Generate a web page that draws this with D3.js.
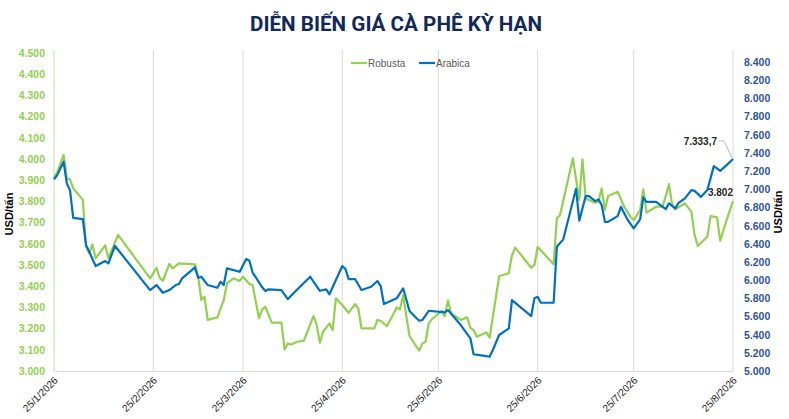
<!DOCTYPE html>
<html>
<head>
<meta charset="utf-8">
<script src="https://cdn.jsdelivr.net/npm/d3@7"></script>
<style>
  html, body { margin: 0; padding: 0; background: #ffffff; }
  svg { display: block; }
</style>
</head>
<body>
<div id="chart"></div>
<script>
// ---------- DATA ----------
const title = "DIỄN BIẾN GIÁ CÀ PHÊ KỲ HẠN";
const seriesNames = ["Robusta", "Arabica"];
const axisTitle = "USD/tấn";

const leftTicks = [3000, 3100, 3200, 3300, 3400, 3500, 3600, 3700, 3800, 3900, 4000, 4100, 4200, 4300, 4400, 4500];
const rightTicks = [5000, 5200, 5400, 5600, 5800, 6000, 6200, 6400, 6600, 6800, 7000, 7200, 7400, 7600, 7800, 8000, 8200, 8400];
const xTickDates = ["2026-01-25", "2026-02-25", "2026-03-25", "2026-04-25", "2026-05-25", "2026-06-25", "2026-07-25", "2026-08-25"];

const robustaDates = [
  "2026-01-25","2026-01-26","2026-01-28","2026-01-29","2026-01-30","2026-01-31","2026-02-03","2026-02-04","2026-02-05","2026-02-06",
  "2026-02-07","2026-02-10","2026-02-11","2026-02-14","2026-02-24","2026-02-26","2026-02-27","2026-02-28","2026-03-02","2026-03-03",
  "2026-03-05","2026-03-10","2026-03-11","2026-03-12","2026-03-13","2026-03-14","2026-03-17","2026-03-19","2026-03-20","2026-03-22",
  "2026-03-24","2026-03-25","2026-03-27","2026-03-28","2026-03-30","2026-03-31","2026-04-01","2026-04-03","2026-04-06","2026-04-07",
  "2026-04-08","2026-04-09","2026-04-11","2026-04-13","2026-04-15","2026-04-16","2026-04-17","2026-04-18","2026-04-19","2026-04-21",
  "2026-04-22","2026-04-23","2026-04-25","2026-04-27","2026-04-29","2026-04-30","2026-05-01","2026-05-05","2026-05-06","2026-05-07",
  "2026-05-09","2026-05-12","2026-05-13","2026-05-14","2026-05-16","2026-05-19","2026-05-20","2026-05-21","2026-05-22","2026-05-23",
  "2026-05-26","2026-05-27","2026-05-28","2026-05-29","2026-06-01","2026-06-03","2026-06-04","2026-06-05","2026-06-06","2026-06-09",
  "2026-06-10","2026-06-13","2026-06-16","2026-06-17","2026-06-18","2026-06-23","2026-06-24","2026-06-25","2026-06-30","2026-07-01",
  "2026-07-02","2026-07-06","2026-07-08","2026-07-09","2026-07-10","2026-07-13","2026-07-14","2026-07-15","2026-07-16","2026-07-17",
  "2026-07-20","2026-07-22","2026-07-24","2026-07-25","2026-07-26","2026-07-27","2026-07-28","2026-07-29","2026-08-01","2026-08-03",
  "2026-08-04","2026-08-05","2026-08-06","2026-08-07","2026-08-10","2026-08-12","2026-08-13","2026-08-14","2026-08-17","2026-08-18",
  "2026-08-20","2026-08-21","2026-08-23","2026-08-25"
];
const robustaValues = [
  3915,3937,4019,3909,3904,3862,3807,3586,3555,3597,
  3532,3593,3532,3642,3437,3487,3440,3425,3505,3484,
  3508,3503,3445,3335,3350,3241,3253,3335,3413,3437,
  3425,3445,3410,3406,3249,3291,3303,3228,3228,3102,
  3130,3125,3138,3143,3220,3259,3220,3134,3185,3225,
  3193,3343,3311,3275,3315,3296,3201,3201,3241,3236,
  3212,3300,3291,3355,3165,3096,3130,3138,3225,3244,
  3283,3259,3332,3272,3241,3253,3204,3193,3162,3182,
  3157,3448,3461,3547,3582,3487,3500,3586,3503,3720,
  3736,4003,3807,3998,3814,3794,3799,3862,3759,3825,
  3846,3775,3728,3712,3736,3759,3857,3747,3775,3775,
  3825,3882,3783,3763,3791,3751,3642,3590,3634,3731,
  3725,3615,3712,3802
];

const arabicaDates = [
  "2026-01-25","2026-01-26","2026-01-28","2026-01-29","2026-01-30","2026-01-31","2026-02-03","2026-02-04","2026-02-05","2026-02-07",
  "2026-02-10","2026-02-11","2026-02-13","2026-02-24","2026-02-26","2026-02-28","2026-03-02","2026-03-04","2026-03-05","2026-03-06",
  "2026-03-10","2026-03-11","2026-03-12","2026-03-14","2026-03-17","2026-03-18","2026-03-19","2026-03-20","2026-03-24","2026-03-26",
  "2026-03-27","2026-03-28","2026-03-31","2026-04-01","2026-04-02","2026-04-06","2026-04-08","2026-04-11","2026-04-15","2026-04-18",
  "2026-04-20","2026-04-21","2026-04-25","2026-04-26","2026-04-27","2026-04-29","2026-05-01","2026-05-04","2026-05-06","2026-05-07",
  "2026-05-08","2026-05-12","2026-05-14","2026-05-16","2026-05-19","2026-05-20","2026-05-22","2026-05-27","2026-05-28","2026-06-01",
  "2026-06-04","2026-06-05","2026-06-08","2026-06-10","2026-06-11","2026-06-13","2026-06-16","2026-06-17","2026-06-23","2026-06-24",
  "2026-06-25","2026-06-26","2026-06-30","2026-07-01","2026-07-03","2026-07-07","2026-07-08","2026-07-10","2026-07-11","2026-07-13",
  "2026-07-14","2026-07-15","2026-07-16","2026-07-17","2026-07-20","2026-07-21","2026-07-23","2026-07-25","2026-07-27","2026-07-28",
  "2026-07-29","2026-08-01","2026-08-04","2026-08-05","2026-08-07","2026-08-08","2026-08-10","2026-08-12","2026-08-13","2026-08-15",
  "2026-08-17","2026-08-19","2026-08-20","2026-08-21","2026-08-23","2026-08-25"
];
const arabicaValues = [
  7110,7156,7303,7065,6991,6686,6672,6386,6312,6155,
  6210,6185,6378,5890,5946,5861,5891,5946,5957,6020,
  6141,6026,6037,5946,5916,5982,5946,6130,6092,6232,
  6213,6086,5921,5880,5899,5891,5792,5899,6037,5883,
  5899,5844,6155,6122,6012,6012,5891,5927,5990,5935,
  5737,5800,5910,5660,5553,5561,5663,5646,5671,5506,
  5360,5184,5169,5157,5231,5396,5470,5781,5605,5800,
  5817,5751,5751,6367,6449,7005,6655,6925,6925,6870,
  6889,6826,6642,6642,6705,6807,6669,6570,6669,6911,
  6862,6862,6782,6845,6790,6851,6900,6991,6983,6917,
  6991,7255,7229,7203,7266,7333.7
];

// ---------- CHART ----------
const W = 789, H = 419;
const parse = d3.utcParse("%Y-%m-%d");
const locale = d3.formatLocale({ decimal: ",", thousands: ".", grouping: [3], currency: ["", ""] });
const fmtInt = locale.format(",.0f");
const fmtDec = locale.format(",.1f");

const robusta = robustaDates.map((d, i) => ({ date: parse(d), value: robustaValues[i] }));
const arabica = arabicaDates.map((d, i) => ({ date: parse(d), value: arabicaValues[i] }));
const tickDates = xTickDates.map(parse);

const plotL = 54, plotR = 733, plotT = 53, plotB = 371;
const x = d3.scaleUtc().domain([tickDates[0], tickDates[tickDates.length - 1]]).range([plotL, plotR]);
const yL = d3.scaleLinear().domain([3000, 4500]).range([plotB, plotT]);
const yR = d3.scaleLinear().domain([5000, 8500]).range([plotB, plotT]);

const green = "#92d050", blue = "#0070c0";
const font = "'Liberation Sans', Arial, sans-serif";

const svg = d3.select("#chart").append("svg")
  .attr("width", W).attr("height", H)
  .attr("font-family", font);

svg.append("rect").attr("width", W).attr("height", H).attr("fill", "#ffffff");

// title
svg.append("text")
  .attr("x", 396).attr("y", 31)
  .attr("text-anchor", "middle")
  .attr("font-family", "Roboto, 'Open Sans', sans-serif")
  .attr("font-weight", "bold")
  .attr("font-size", 20.5)
  .attr("fill", "#10295a")
  .attr("textLength", 292)
  .attr("lengthAdjust", "spacingAndGlyphs")
  .text(title);

// vertical gridlines
svg.append("g").selectAll("line")
  .data(tickDates.slice(1, -1))
  .join("line")
  .attr("x1", d => x(d)).attr("x2", d => x(d))
  .attr("y1", plotT - 3).attr("y2", plotB)
  .attr("stroke", "#d9d9d9").attr("stroke-width", 1);

// bottom axis
const xAxis = svg.append("g")
  .attr("transform", `translate(0,${plotB})`)
  .call(d3.axisBottom(x).tickValues(tickDates).tickFormat(d3.utcFormat("%-d/%-m/%Y")).tickSize(0));
xAxis.select(".domain").attr("stroke", "#d9d9d9");
xAxis.selectAll("text")
  .attr("x", 0).attr("y", 0).attr("dy", 0)
  .attr("transform", "translate(4,10) rotate(-45)")
  .attr("text-anchor", "end")
  .attr("font-family", font)
  .attr("font-size", 10)
  .attr("fill", "#1a1a1a");

// left axis
const leftAxis = svg.append("g")
  .attr("transform", `translate(${plotL},0)`)
  .call(d3.axisLeft(yL).tickValues(leftTicks).tickFormat(fmtInt).tickSize(0).tickPadding(9));
leftAxis.select(".domain").attr("stroke", "#c5e0a5").attr("d", `M0,${plotT - 3}V${plotB}`);
leftAxis.selectAll("text")
  .attr("font-family", font).attr("font-size", 10.5).attr("font-weight", "bold")
  .attr("fill", green);

// right axis
const rightAxis = svg.append("g")
  .attr("transform", `translate(${plotR},0)`)
  .call(d3.axisRight(yR).tickValues(rightTicks).tickFormat(fmtInt).tickSize(0).tickPadding(11));
rightAxis.select(".domain").attr("stroke", "#d9d9d9").attr("d", `M0,${plotT - 3}V${plotB}`);
rightAxis.selectAll("text")
  .attr("font-family", font).attr("font-size", 10.5).attr("font-weight", "bold")
  .attr("fill", "#2f5597");

// axis titles
svg.append("text")
  .attr("transform", `translate(13,214) rotate(-90)`)
  .attr("text-anchor", "middle")
  .attr("font-weight", "bold").attr("font-size", 11).attr("fill", "#000")
  .text(axisTitle);
svg.append("text")
  .attr("transform", `translate(782,212) rotate(-90)`)
  .attr("text-anchor", "middle")
  .attr("font-weight", "bold").attr("font-size", 11).attr("fill", "#000")
  .text(axisTitle);

// lines
const lineL = d3.line().x(d => x(d.date)).y(d => yL(d.value));
const lineR = d3.line().x(d => x(d.date)).y(d => yR(d.value));

svg.append("path").datum(robusta)
  .attr("d", lineL).attr("fill", "none")
  .attr("stroke", green).attr("stroke-width", 2.2)
  .attr("stroke-linejoin", "round");
svg.append("path").datum(arabica)
  .attr("d", lineR).attr("fill", "none")
  .attr("stroke", blue).attr("stroke-width", 2.2)
  .attr("stroke-linejoin", "round");

// legend
const legend = svg.append("g").attr("font-size", 10).attr("fill", "#595959");
const legItems = [
  { name: seriesNames[0], color: green, x: 351 },
  { name: seriesNames[1], color: blue, x: 419 }
];
legItems.forEach(it => {
  legend.append("line")
    .attr("x1", it.x).attr("x2", it.x + 16)
    .attr("y1", 63).attr("y2", 63)
    .attr("stroke", it.color).attr("stroke-width", 2.2);
  legend.append("text")
    .attr("x", it.x + 17).attr("y", 66.5)
    .text(it.name);
});

// data labels
const lastA = arabica[arabica.length - 1];
const lastR = robusta[robusta.length - 1];
const ax = x(lastA.date), ay = yR(lastA.value);
svg.append("path")
  .attr("d", `M${ax - 14},${ay - 18}H${ax - 9}L${ax - 1},${ay - 1}`)
  .attr("fill", "none").attr("stroke", "#a6a6a6").attr("stroke-width", 0.8);
svg.append("text")
  .attr("x", ax - 16).attr("y", ay - 14)
  .attr("text-anchor", "end")
  .attr("font-weight", "bold").attr("font-size", 10).attr("fill", "#262626")
  .text(fmtDec(lastA.value));
const rx = x(lastR.date), ry = yL(lastR.value);
svg.append("text")
  .attr("x", rx).attr("y", ry - 5)
  .attr("text-anchor", "end")
  .attr("font-weight", "bold").attr("font-size", 10).attr("fill", "#262626")
  .text(fmtInt(lastR.value));
</script>
</body>
</html>
